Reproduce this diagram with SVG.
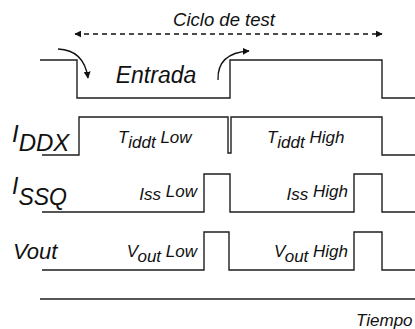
<svg xmlns="http://www.w3.org/2000/svg" width="415" height="329" viewBox="0 0 415 329">
<style>
.sig{fill:none;stroke:#1e1e1e;stroke-width:1.4}
.t{font-family:"Liberation Sans",Arial,sans-serif;font-style:italic;fill:#111}
.arr{fill:none;stroke:#111;stroke-width:1.3}
</style>
<defs>
<marker id="ah" viewBox="0 0 10 10" refX="9" refY="5" markerWidth="7" markerHeight="7" markerUnits="userSpaceOnUse" orient="auto-start-reverse">
<path d="M0,0 L10,5 L0,10 z" fill="#111"/>
</marker>
</defs>
<rect width="415" height="329" fill="#fff"/>
<g id="ciclo">
<text class="t" x="224" y="26" font-size="18.5" text-anchor="middle">Ciclo de test</text>
</g>
<g id="entrada">
<path class="sig" d="M40,60 H77 V98 H230 V60 H382 V98 H415"/>
<text class="t" x="156" y="83" font-size="23" text-anchor="middle">Entrada</text>
</g>
<g id="iddx">
<text class="t" x="12" y="142" font-size="24">I<tspan dy="9">DDX</tspan></text>
<path class="sig" d="M42,155 H79 V117 H228 V153 H231 V117 H382 V155 H415"/>
<text class="t" x="118" y="143" font-size="17">T<tspan dy="5">iddt</tspan><tspan dy="-5"> Low</tspan></text>
<text class="t" x="267" y="143" font-size="17">T<tspan dy="5">iddt</tspan><tspan dy="-5"> High</tspan></text>
</g>
<g id="issq">
<text class="t" x="12" y="194" font-size="23">I<tspan dy="11">SSQ</tspan></text>
<path class="sig" d="M42,212 H204 V174 H230 V212 H354 V174 H382 V212 H415"/>
<text class="t" x="197" y="200" font-size="17" text-anchor="end">Iss<tspan dy="-3.5"> Low</tspan></text>
<text class="t" x="348" y="200" font-size="17" text-anchor="end">Iss<tspan dy="-3.5"> High</tspan></text>
</g>
<g id="vout">
<text class="t" x="13" y="259" font-size="22">Vout</text>
<path class="sig" d="M42,270 H204 V232 H229 V270 H354 V232 H382 V270 H415"/>
<text class="t" x="197" y="257" font-size="17" text-anchor="end">V<tspan dy="5">out</tspan><tspan dy="-5"> Low</tspan></text>
<text class="t" x="348" y="257" font-size="17" text-anchor="end">V<tspan dy="5">out</tspan><tspan dy="-5"> High</tspan></text>
</g>
<g id="tiempo">
<text class="t" x="356" y="326" font-size="17">Tiempo</text>
</g>
<g id="connectors">
<line class="arr" x1="75" y1="34" x2="382" y2="34" stroke-dasharray="5,4" marker-start="url(#ah)" marker-end="url(#ah)"/>
<path class="arr" d="M58,49 Q84,50 88,78" marker-end="url(#ah)"/>
<path class="arr" d="M218,80 Q217,53 249,51" marker-end="url(#ah)"/>
<line class="sig" x1="40" y1="299" x2="421" y2="299" marker-end="url(#ah)"/>
</g>
</svg>
